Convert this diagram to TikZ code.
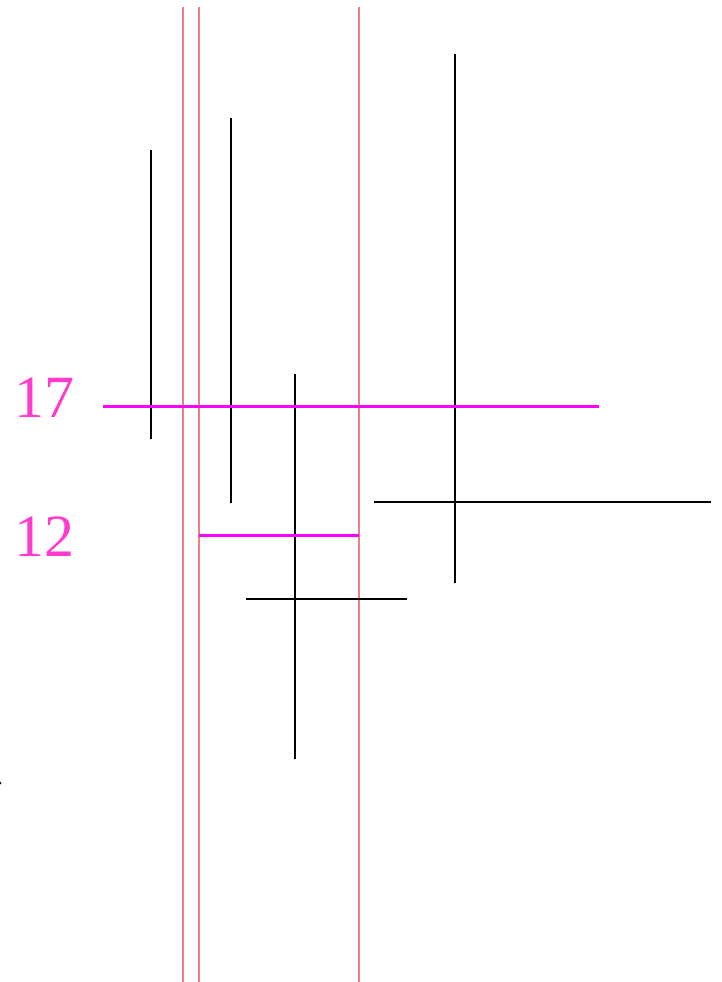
\documentclass[tikz,border=0pt]{standalone}
\usepackage{fontspec}
\setmainfont{Liberation Serif}
\usepackage{xcolor}
\usepackage{tikz}
\definecolor{sweepRed}{HTML}{EC8080}
\definecolor{hitPink}{HTML}{FF00FF}
\definecolor{labelPink}{HTML}{FF3ACF}
\tikzset{
  sweep line/.style={draw=sweepRed, line width=1.4pt},
  segment/.style={draw=black, line width=1.6pt},
  query/.style={draw=hitPink, line width=3pt},
  query label/.style={text=labelPink, font=\fontsize{60}{60}\selectfont,
    inner sep=0pt}
}
\begin{document}
\begin{tikzpicture}[x=1pt, y=-1pt]
  \useasboundingbox (0,0) rectangle (721,982);
  % sweep positions
  \draw[sweep line] (183,7) -- (183,982);
  \draw[sweep line] (199,7) -- (199,982);
  \draw[sweep line] (359,7) -- (359,982);
  % vertical segments
  \draw[segment] (151,150) -- (151,439);
  \draw[segment] (231,118) -- (231,503);
  \draw[segment] (295,374) -- (295,759);
  \draw[segment] (455,54) -- (455,583);
  % horizontal segments
  \draw[segment] (374,502) -- (711,502);
  \draw[segment] (246,599) -- (407,599);
  % queries
  \draw[query] (103,406) -- (599,406);
  \draw[query] (199,535) -- (359,535);
  \node[query label] (q17) at (44,398) {17};
  \node[query label] (q12) at (44,537) {12};
  \fill (0,783) circle (1.5);
\end{tikzpicture}
\end{document}
